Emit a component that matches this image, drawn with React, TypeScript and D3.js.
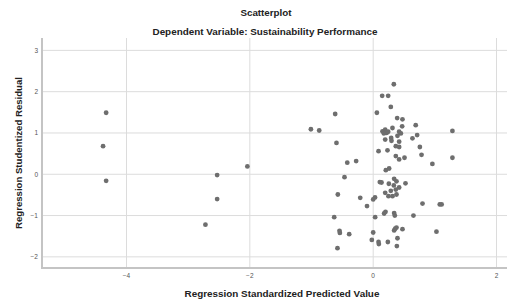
import { useEffect, useRef } from 'react';
import * as d3 from 'd3';

const title = 'Scatterplot';
const subtitle = 'Dependent Variable: Sustainability Performance';
const xLabel = 'Regression Standardized Predicted Value';
const yLabel = 'Regression Studentized Residual';

const xTicks = [-4, -2, 0, 2];
const yTicks = [-2, -1, 0, 1, 2, 3];

// standardized predicted value
const predicted = [
  -4.33, -4.38, -4.33, -2.04, -2.53, -2.53, -2.72,
  0.335, 0.146, 0.243, 0.286, 0.06, -0.616, -1.01, -0.875, 1.285, 0.69, 0.713, 0.637,
  0.389, 0.475, 0.47, 0.313, 0.151, 0.195, 0.216, 0.173, 0.243, 0.421, 0.449, 0.394,
  0.292, 0.195, 0.297, 0.421, -0.595, 0.757, 0.367, 0.421, 0.087, 0.232, 0.784, 0.367,
  0.421, 0.508, 1.285, -0.276, -0.42, 0.96, 0.259, 0.205, -0.465, 0.108, 0.135, 0.34,
  0.378, 0.524, 0.254, 0.335, 0.421, 0.367, 0.195, 0.286, 0.378, 0.313, 0.248, -0.573,
  -0.21, 0.0, 0.03, -0.1, 0.8, 1.08, 1.11, 0.2, 0.178, 0.34, 0.351, -0.632, 0.032,
  0.653, 0.357, 0.378, 0.34, 0.475, -0.546, -0.54, -0.389, 0.0, 1.026, -0.022, 0.087,
  0.092, 0.238, 0.394, 0.384, -0.579,
];

// studentized residual
const residual = [
  1.49, 0.68, -0.16, 0.19, -0.02, -0.6, -1.22,
  2.18, 1.9, 1.9, 1.63, 1.49, 1.46, 1.09, 1.06, 1.05, 1.19, 0.95, 0.87,
  1.36, 1.33, 1.16, 1.12, 1.04, 1.08, 1.0, 0.99, 1.03, 1.03, 0.99, 0.93,
  0.88, 0.84, 0.81, 0.79, 0.76, 0.66, 0.68, 0.66, 0.56, 0.58, 0.47, 0.44,
  0.36, 0.4, 0.4, 0.32, 0.28, 0.25, 0.14, 0.1, -0.07, -0.19, -0.2, -0.11,
  -0.17, -0.22, -0.23, -0.27, -0.32, -0.37, -0.45, -0.4, -0.49, -0.53, -0.53, -0.49,
  -0.57, -0.61, -0.56, -0.77, -0.71, -0.73, -0.73, -0.91, -0.95, -0.94, -1.0, -1.04, -1.04,
  -1.0, -1.32, -1.29, -1.36, -1.33, -1.37, -1.42, -1.45, -1.41, -1.39, -1.59, -1.64,
  -1.69, -1.64, -1.55, -1.74, -1.79,
];

const W = 507;
const H = 302;
const font = '"Liberation Sans", Arial, sans-serif';

export default function App() {
  const svgRef = useRef<SVGSVGElement>(null);

  useEffect(() => {
    document.body.style.margin = '0';
    const svg = d3.select(svgRef.current);
    if (!svgRef.current) return;
    svg.selectAll('*').remove();

    const left = 42;
    const right = 507;
    const top = 38;
    const bottom = 268;

    const x = d3.scaleLinear().domain([-5.37, 2.17]).range([left, right]);
    const y = d3.scaleLinear().domain([-2.27, 3.3]).range([bottom, top]);

    // Gridlines
    const grid = svg.append('g').attr('stroke', '#dcdcdc').attr('stroke-width', 1);
    grid.selectAll('line.v').data(xTicks).join('line')
      .attr('x1', d => x(d)).attr('x2', d => x(d))
      .attr('y1', top).attr('y2', bottom);
    grid.selectAll('line.h').data(yTicks).join('line')
      .attr('class', 'h')
      .attr('x1', left).attr('x2', right)
      .attr('y1', d => y(d)).attr('y2', d => y(d));

    // Axis lines
    svg.append('line')
      .attr('x1', left).attr('x2', left).attr('y1', top).attr('y2', bottom + 1)
      .attr('stroke', '#c4c4c4').attr('stroke-width', 2);
    svg.append('line')
      .attr('x1', left).attr('x2', right).attr('y1', bottom).attr('y2', bottom)
      .attr('stroke', '#c4c4c4').attr('stroke-width', 2);

    // Tick labels
    svg.append('g').selectAll('text').data(yTicks).join('text')
      .attr('x', left - 4).attr('y', d => y(d)).attr('dy', '0.35em')
      .attr('text-anchor', 'end').attr('font-size', 6.5).attr('fill', '#555')
      .attr('font-family', font)
      .text(d => d3.format('')(d));
    svg.append('g').selectAll('text').data(xTicks).join('text')
      .attr('x', d => x(d)).attr('y', 278)
      .attr('text-anchor', 'middle').attr('font-size', 6.5).attr('fill', '#555')
      .attr('font-family', font)
      .text(d => d3.format('')(d));

    // Points
    const pts = d3.zip(predicted, residual);
    svg.append('g').selectAll('circle').data(pts).join('circle')
      .attr('cx', d => x(d[0])).attr('cy', d => y(d[1]))
      .attr('r', 2.4).attr('fill', '#6e6e6e');

    // Titles
    svg.append('text')
      .attr('x', 266).attr('y', 15.5).attr('text-anchor', 'middle')
      .attr('font-family', font).attr('font-size', 9.8).attr('font-weight', 'bold')
      .attr('fill', '#222').text(title);
    svg.append('text')
      .attr('x', 265).attr('y', 34.5).attr('text-anchor', 'middle')
      .attr('font-family', font).attr('font-size', 9.9).attr('font-weight', 'bold')
      .attr('fill', '#222').text(subtitle);
    svg.append('text')
      .attr('x', 282).attr('y', 296.5).attr('text-anchor', 'middle')
      .attr('font-family', font).attr('font-size', 9.9).attr('font-weight', 'bold')
      .attr('fill', '#222').text(xLabel);
    svg.append('text')
      .attr('transform', 'translate(21.5,153) rotate(-90)').attr('text-anchor', 'middle')
      .attr('font-family', font).attr('font-size', 9.6).attr('font-weight', 'bold')
      .attr('fill', '#222').text(yLabel);
  }, []);

  return <svg ref={svgRef} width={W} height={H} style={{ display: 'block', background: '#fff' }} />;
}
